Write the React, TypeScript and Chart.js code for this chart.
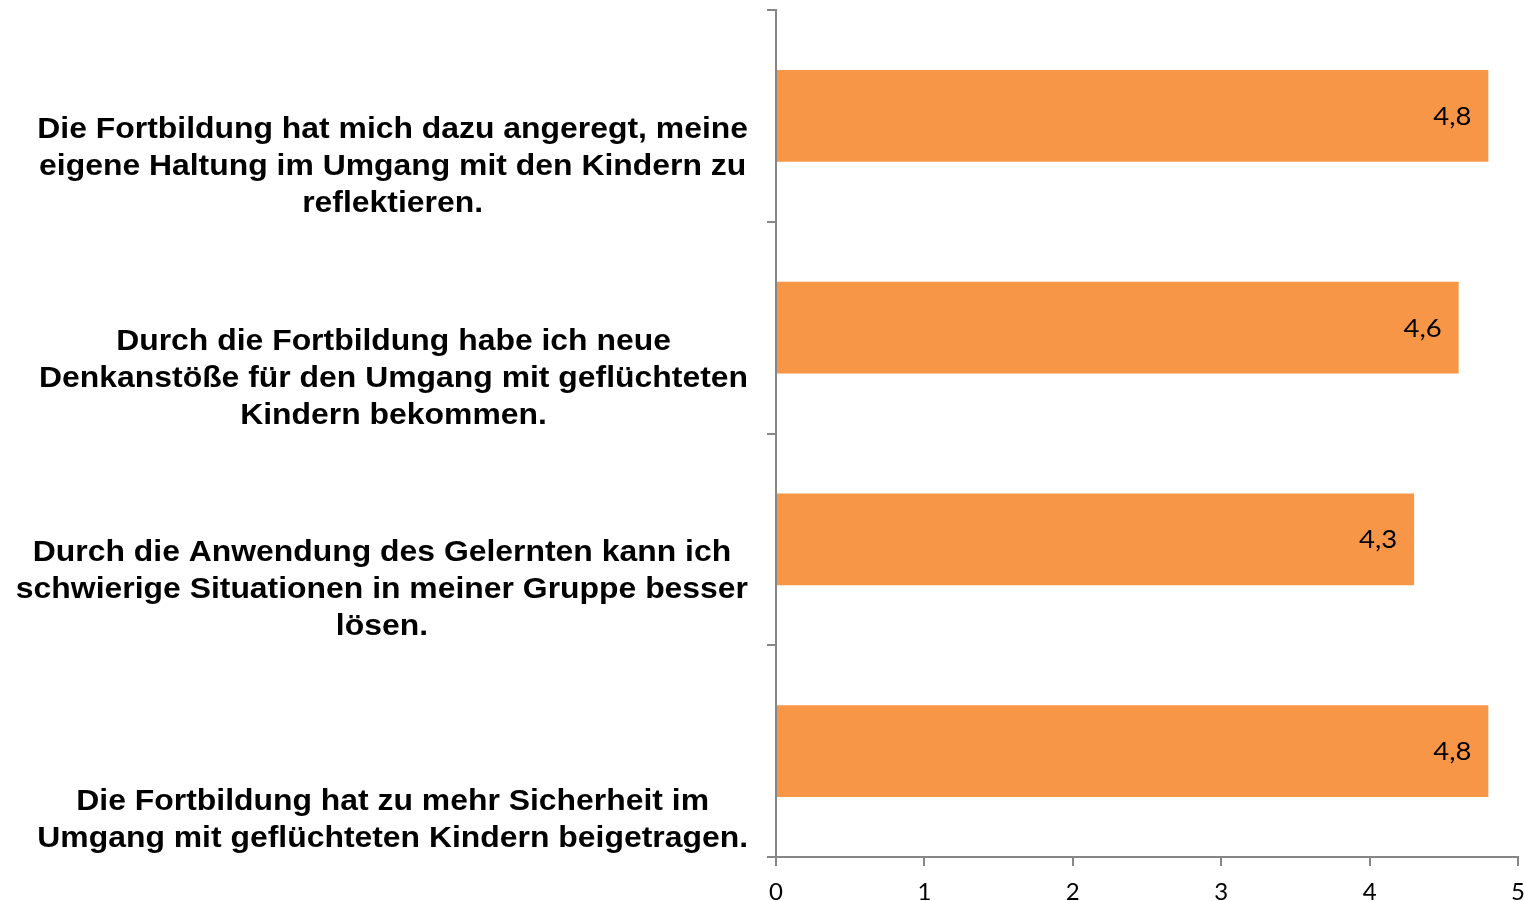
import React, { useEffect, useRef } from "react";
import { Chart, registerables } from "chart.js";

Chart.register(...registerables);

const categories: string[][] = [
  ["Die Fortbildung hat mich dazu angeregt, meine", "eigene Haltung im Umgang mit den Kindern zu", "reflektieren."],
  ["Durch die Fortbildung habe ich neue", "Denkanstöße für den Umgang mit geflüchteten", "Kindern bekommen."],
  ["Durch die Anwendung des Gelernten kann ich", "schwierige Situationen in meiner Gruppe besser", "lösen."],
  ["Die Fortbildung hat zu mehr Sicherheit im", "Umgang mit geflüchteten Kindern beigetragen."],
];
const values: number[] = [4.8, 4.6, 4.3, 4.8];
const valueLabels: string[] = ["4,8", "4,6", "4,3", "4,8"];
const xTicks: number[] = [0, 1, 2, 3, 4, 5];

const AXIS = "#868686";
const BAR = "#F79646";
const LABEL_FONT = "bold 29px 'Liberation Sans', Arial, sans-serif";
const VALUE_FONT = "25px Lato, sans-serif";
const STRETCH = 1.1;

const drawStretched = (ctx: any, text: string, x: number, y: number) => {
  ctx.save();
  ctx.translate(x, y);
  ctx.scale(STRETCH, 1);
  ctx.fillText(text, 0, 0);
  ctx.restore();
};

const labelPlugin = {
  id: "customLabels",
  afterDatasetsDraw(chart: any) {
    const ctx = chart.ctx;
    const yScale = chart.scales.y;
    const meta = chart.getDatasetMeta(0);
    ctx.save();
    ctx.font = LABEL_FONT;
    ctx.fillStyle = "#000";
    ctx.textBaseline = "middle";
    ctx.textAlign = "center";
    const rightEdge = chart.chartArea.left - 28;
    const lineH = 37;
    categories.forEach((lines, i) => {
      const center = yScale.getPixelForValue(i);
      const half = (yScale.getPixelForValue(1) - yScale.getPixelForValue(0)) / 2;
      const bottom = center + half;
      const maxW = Math.max(...lines.map((l) => ctx.measureText(l).width)) * STRETCH;
      const cx = rightEdge - maxW / 2;
      lines.forEach((l, j) => {
        const y = bottom - 18 - (lines.length - 1 - j) * lineH;
        drawStretched(ctx, l, cx, y);
      });
    });
    ctx.font = VALUE_FONT;
    ctx.textAlign = "center";
    meta.data.forEach((bar: any, i: number) => {
      drawStretched(ctx, valueLabels[i], bar.x - 36, bar.y + 1);
    });
    ctx.restore();
  },
};

export default function App() {
  const ref = useRef<HTMLCanvasElement>(null);
  useEffect(() => {
    let chart: any = null;
    let cancelled = false;
    const make = () => {
      if (cancelled || !ref.current) return;
      chart = new Chart(ref.current, {
        type: "bar",
        data: {
          labels: categories.map((c) => c.join(" ")),
          datasets: [
            {
              data: values,
              backgroundColor: BAR,
              barPercentage: 0.434,
              categoryPercentage: 1,
            },
          ],
        },
        options: {
          indexAxis: "y",
          animation: false,
          responsive: false,
          maintainAspectRatio: false,
          layout: { padding: { top: 10, right: 6, left: 0, bottom: 0 } },
          plugins: {
            legend: { display: false },
            tooltip: { enabled: false },
          },
          scales: {
            y: {
              type: "category",
              offset: true,
              grid: {
                offset: true,
                drawOnChartArea: false,
                drawTicks: true,
                tickLength: 9,
                color: AXIS,
                lineWidth: 2,
              },
              border: { display: true, color: AXIS, width: 2 },
              ticks: { display: false },
              afterFit: (s: any) => {
                s.width = 776;
                s.paddingTop = 0;
                s.paddingBottom = 0;
              },
            },
            x: {
              type: "linear",
              min: 0,
              max: 5,
              afterBuildTicks: (s: any) => {
                s.ticks = xTicks.map((v) => ({ value: v }));
              },
              grid: {
                drawOnChartArea: false,
                drawTicks: true,
                tickLength: 9,
                color: AXIS,
                lineWidth: 2,
              },
              border: { display: true, color: AXIS, width: 2 },
              ticks: {
                color: "#000",
                font: { family: "Lato, sans-serif", size: 24 },
                padding: 12,
                maxRotation: 0,
              },
              afterFit: (s: any) => {
                s.height = 44;
                s.paddingLeft = 0;
                s.paddingRight = 0;
              },
            },
          },
        },
        plugins: [labelPlugin],
      });
    };
    const fontsReady = (document as any).fonts
      ? Promise.all([
          (document as any).fonts.load(LABEL_FONT, "Die"),
          (document as any).fonts.load(VALUE_FONT, "4,8"),
          (document as any).fonts.load("24px Lato", "0"),
        ]).catch(() => null)
      : Promise.resolve();
    fontsReady.then(make);
    return () => {
      cancelled = true;
      if (chart) chart.destroy();
    };
  }, []);
  return (
    <div style={{ position: "absolute", left: 0, top: 0, width: 1524, height: 901, background: "#fff" }}>
      <canvas ref={ref} width={1524} height={901} style={{ display: "block" }} />
    </div>
  );
}
